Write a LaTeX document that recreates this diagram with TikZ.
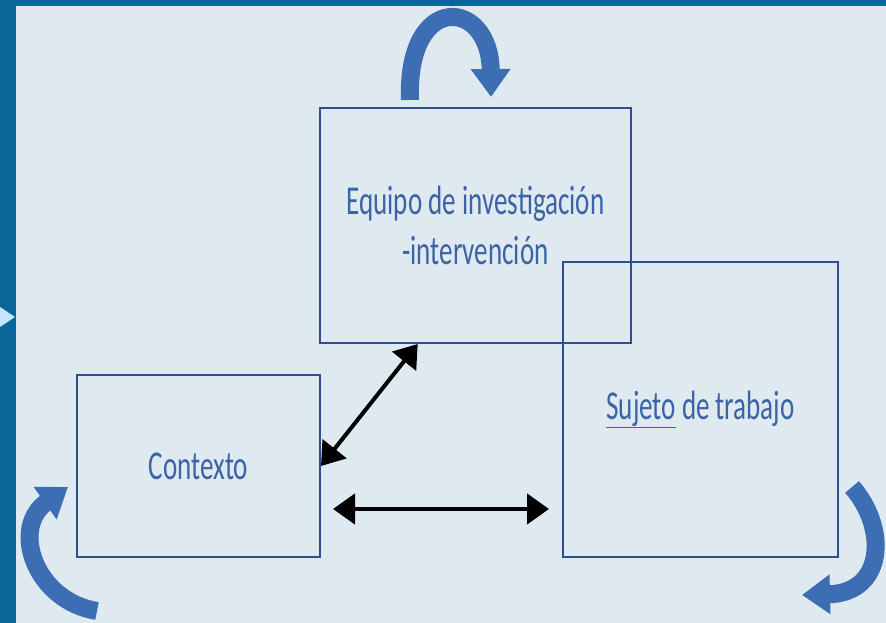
\documentclass[tikz,border=0pt]{standalone}
\usepackage{fontspec}
\newfontfamily\boxfont[FakeStretch=0.66]{Carlito}
\usetikzlibrary{arrows.meta}
\definecolor{bgc}{RGB}{223,233,240}
\definecolor{band}{RGB}{10,102,153}
\definecolor{tri}{RGB}{197,230,248}
\definecolor{edge}{RGB}{47,79,143}
\definecolor{txt}{RGB}{59,99,165}
\definecolor{curv}{RGB}{61,110,180}
\tikzset{
  box/.style={draw=edge, line width=2pt, fill=none, inner sep=0pt, align=center,
    text=txt, font=\boxfont\fontsize{41}{50}\selectfont},
  dbl/.style={{Triangle[length=22pt,width=30pt]}-{Triangle[length=22pt,width=30pt]}, line width=4.5pt, black},
  turn/.style={-{Triangle[length=28pt,width=38pt]}, line width=18pt, curv},
}
\begin{document}
\begin{tikzpicture}[x=1pt,y=1pt]
\useasboundingbox (0,0) rectangle (886,623);
\fill[bgc] (0,0) rectangle (886,623);
\fill[band] (0,0) rectangle (16,623);
\fill[band] (0,617) rectangle (886,623);
\fill[tri] (0,296) -- (15,306) -- (0,316) -- cycle;

\node[box, minimum width=311pt, minimum height=235pt] (eq) at (475.5,397.5)
  {Equipo de investigación\\-intervención};
\node[box, minimum width=243pt, minimum height=182pt] (ctx) at (198.5,157) {Contexto};
\node[box, minimum width=275pt, minimum height=295pt] (sub) at (700.5,213.5)
  {\underline{Sujeto} de trabajo};

\draw[dbl, line width=4pt] (eq.244.7) -- (ctx.east);
\draw[dbl] ([shift={(12pt,-43pt)}]ctx.east) -- ([shift={(-13pt,-99.5pt)}]sub.west);

\coordinate (t1) at (410,523);
\coordinate (t2) at (491,526);
\draw[turn] (t1) .. controls (406,632) and (490,625) .. (t2);

\coordinate (l1) at (97,12);
\coordinate (l2) at (68,136);
\draw[turn] (l1) .. controls (35,22) and (10,95) .. (l2);

\coordinate (r1) at (852,136);
\coordinate (r2) at (802,28);
\draw[turn] (r1) .. controls (888,95) and (885,30) .. (r2);
\end{tikzpicture}
\end{document}
